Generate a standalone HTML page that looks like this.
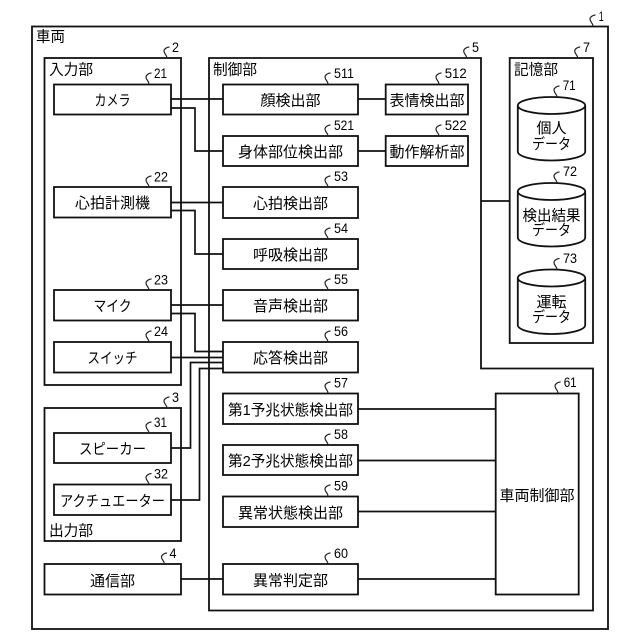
<!DOCTYPE html>
<html lang="ja">
<head>
<meta charset="utf-8">
<title>車両</title>
<style>
html,body{margin:0;padding:0;background:#fff}
svg{display:block}
text{font-family:"Liberation Sans","Noto Sans CJK JP",sans-serif;fill:#000;font-size:15px}
.c{text-anchor:middle}
.n{font-size:14px}
.b{fill:#fff;stroke:#111;stroke-width:1.8}
.o{fill:none;stroke:#111;stroke-width:1.8}
.l{fill:none;stroke:#111;stroke-width:1.7}
.s{fill:none;stroke:#222;stroke-width:1.2}
</style>
</head>
<body>
<svg width="640" height="640" viewBox="0 0 640 640" xmlns="http://www.w3.org/2000/svg">
<defs><path id="q" class="s" d="M0 0C0 -3 -3 -4 -3 -7C-3 -9 0 -11 2.500 -11"/></defs>
<rect width="640" height="640" fill="#fff"/>

<!-- containers -->
<rect class="o" x="32" y="26.500" width="576" height="602.500"/>
<rect class="o" x="44.500" y="58" width="136.500" height="327"/>
<rect class="o" x="44.500" y="408" width="136.500" height="133"/>
<path class="o" d="M209 58H481V368.500H593V610.500H209Z"/>
<rect class="o" x="509.700" y="58" width="83.300" height="285"/>

<!-- connectors -->
<path class="l" d="M171 99H223M171 108H195V151H223M171 202.500H223M171 210.500H195V254H223M171 305H223M171 313.500H195V351.500H223M171 357.500H223M171 448H190.500V362.500H223M171 500H199.500V368.500H223M181 579H223"/>
<path class="l" d="M358 99H386M358 151H386M481 201H510M358 409H496M358 460.500H496M358 511.500H496M358 579H496"/>

<!-- boxes -->
<rect class="b" x="54" y="84.500" width="117" height="30"/>
<rect class="b" x="54" y="187" width="117" height="30.500"/>
<rect class="b" x="54" y="290" width="117" height="30.500"/>
<rect class="b" x="54" y="342" width="117" height="30.500"/>
<rect class="b" x="54" y="433" width="117" height="30"/>
<rect class="b" x="54" y="484.500" width="117" height="30.500"/>
<rect class="b" x="44.500" y="564" width="136.500" height="30.500"/>
<rect class="b" x="223" y="84.500" width="135" height="30"/>
<rect class="b" x="223" y="136" width="135" height="30"/>
<rect class="b" x="223" y="187" width="135" height="31"/>
<rect class="b" x="223" y="239" width="135" height="30"/>
<rect class="b" x="223" y="290" width="135" height="30.500"/>
<rect class="b" x="223" y="342" width="135" height="30.500"/>
<rect class="b" x="223" y="393.500" width="135" height="30.500"/>
<rect class="b" x="223" y="445" width="135" height="30"/>
<rect class="b" x="223" y="496.500" width="135" height="30.500"/>
<rect class="b" x="223" y="564" width="135" height="30.500"/>
<rect class="b" x="385.700" y="84.500" width="82.300" height="30"/>
<rect class="b" x="385.700" y="136" width="82.300" height="30"/>
<rect class="b" x="495.700" y="393.500" width="83" height="201"/>

<!-- cylinders -->
<path class="b" d="M517.800 106V151.500C517.800 156.500 533 160.500 551.500 160.500C570 160.500 585.200 156.500 585.200 151.500V106"/>
<ellipse class="b" cx="551.500" cy="105.500" rx="33.700" ry="8.500"/>
<path class="b" d="M517.800 191.500V237.500C517.800 242.500 533 246.500 551.500 246.500C570 246.500 585.200 242.500 585.200 237.500V191.500"/>
<ellipse class="b" cx="551.500" cy="191.500" rx="33.700" ry="8.500"/>
<path class="b" d="M517.800 278V325C517.800 330 533 334 551.500 334C570 334 585.200 330 585.200 325V278"/>
<ellipse class="b" cx="551.500" cy="278" rx="33.700" ry="8.500"/>

<!-- group labels -->
<text x="36" y="41.500" textLength="29" lengthAdjust="spacingAndGlyphs">車両</text>
<text x="49" y="74.500" textLength="44" lengthAdjust="spacingAndGlyphs">入力部</text>
<text x="213" y="74.500" textLength="44" lengthAdjust="spacingAndGlyphs">制御部</text>
<text x="514" y="74.500" textLength="44" lengthAdjust="spacingAndGlyphs">記憶部</text>
<text x="49" y="535.500" textLength="44" lengthAdjust="spacingAndGlyphs">出力部</text>

<!-- box labels -->
<text class="c" x="112.500" y="105.500" textLength="36" lengthAdjust="spacingAndGlyphs">カメラ</text>
<text class="c" x="112.500" y="208">心拍計測機</text>
<text class="c" x="112.500" y="311" textLength="38" lengthAdjust="spacingAndGlyphs">マイク</text>
<text class="c" x="112.500" y="363" textLength="50" lengthAdjust="spacingAndGlyphs">スイッチ</text>
<text class="c" x="112.500" y="454" textLength="67" lengthAdjust="spacingAndGlyphs">スピーカー</text>
<text class="c" x="112.500" y="506" textLength="105" lengthAdjust="spacingAndGlyphs">アクチュエーター</text>
<text class="c" x="112.500" y="586">通信部</text>
<text class="c" x="290.500" y="105.500">顔検出部</text>
<text class="c" x="290.500" y="157">身体部位検出部</text>
<text class="c" x="290.500" y="208.500">心拍検出部</text>
<text class="c" x="290.500" y="260">呼吸検出部</text>
<text class="c" x="290.500" y="311">音声検出部</text>
<text class="c" x="290.500" y="363">応答検出部</text>
<text class="c" x="290.500" y="415" textLength="125" lengthAdjust="spacingAndGlyphs">第1予兆状態検出部</text>
<text class="c" x="290.500" y="466" textLength="125" lengthAdjust="spacingAndGlyphs">第2予兆状態検出部</text>
<text class="c" x="290.500" y="518">異常状態検出部</text>
<text class="c" x="290.500" y="585.500">異常判定部</text>
<text class="c" x="427" y="105.500">表情検出部</text>
<text class="c" x="427" y="157">動作解析部</text>
<text class="c" x="537" y="500.500">車両制御部</text>
<text class="c" x="551.500" y="133">個人</text>
<text class="c" x="551.500" y="149" textLength="39" lengthAdjust="spacingAndGlyphs">データ</text>
<text class="c" x="551.500" y="220.500" textLength="58" lengthAdjust="spacingAndGlyphs">検出結果</text>
<text class="c" x="551.500" y="235" textLength="39" lengthAdjust="spacingAndGlyphs">データ</text>
<text class="c" x="551.500" y="307">運転</text>
<text class="c" x="551.500" y="322" textLength="39" lengthAdjust="spacingAndGlyphs">データ</text>

<!-- squiggles -->
<use href="#q" x="593" y="26"/>
<use href="#q" x="167" y="58"/>
<use href="#q" x="149" y="84"/>
<use href="#q" x="149" y="187"/>
<use href="#q" x="149" y="290"/>
<use href="#q" x="149" y="342"/>
<use href="#q" x="167" y="408"/>
<use href="#q" x="149" y="433"/>
<use href="#q" x="149" y="484.500"/>
<use href="#q" x="164.500" y="564"/>
<use href="#q" x="328" y="84"/>
<use href="#q" x="328" y="136"/>
<use href="#q" x="328" y="187"/>
<use href="#q" x="328" y="239"/>
<use href="#q" x="328" y="290"/>
<use href="#q" x="328" y="342"/>
<use href="#q" x="328" y="393"/>
<use href="#q" x="328" y="445"/>
<use href="#q" x="328" y="496"/>
<use href="#q" x="328" y="564"/>
<use href="#q" x="439" y="84"/>
<use href="#q" x="439" y="136"/>
<use href="#q" x="466.700" y="58"/>
<use href="#q" x="577.700" y="58"/>
<use href="#q" x="557" y="97"/>
<use href="#q" x="557" y="183"/>
<use href="#q" x="557" y="269.500"/>
<use href="#q" x="558" y="393"/>

<!-- reference numbers -->
<text class="n" x="598.700" y="21" textLength="5" lengthAdjust="spacingAndGlyphs">1</text>
<text class="n" x="172" y="52" textLength="7" lengthAdjust="spacingAndGlyphs">2</text>
<text class="n" x="154" y="78" textLength="13" lengthAdjust="spacingAndGlyphs">21</text>
<text class="n" x="154" y="181.500" textLength="14" lengthAdjust="spacingAndGlyphs">22</text>
<text class="n" x="154" y="284.700" textLength="14" lengthAdjust="spacingAndGlyphs">23</text>
<text class="n" x="154" y="336" textLength="14" lengthAdjust="spacingAndGlyphs">24</text>
<text class="n" x="172" y="402" textLength="7" lengthAdjust="spacingAndGlyphs">3</text>
<text class="n" x="154" y="427" textLength="13" lengthAdjust="spacingAndGlyphs">31</text>
<text class="n" x="154" y="478.700" textLength="14" lengthAdjust="spacingAndGlyphs">32</text>
<text class="n" x="169.500" y="558" textLength="7" lengthAdjust="spacingAndGlyphs">4</text>
<text class="n" x="334" y="78" textLength="20" lengthAdjust="spacingAndGlyphs">511</text>
<text class="n" x="334" y="130" textLength="20" lengthAdjust="spacingAndGlyphs">521</text>
<text class="n" x="334" y="181" textLength="14" lengthAdjust="spacingAndGlyphs">53</text>
<text class="n" x="334" y="233" textLength="14" lengthAdjust="spacingAndGlyphs">54</text>
<text class="n" x="334" y="284" textLength="14" lengthAdjust="spacingAndGlyphs">55</text>
<text class="n" x="334" y="336" textLength="14" lengthAdjust="spacingAndGlyphs">56</text>
<text class="n" x="334" y="387.500" textLength="14" lengthAdjust="spacingAndGlyphs">57</text>
<text class="n" x="334" y="439" textLength="14" lengthAdjust="spacingAndGlyphs">58</text>
<text class="n" x="334" y="490.500" textLength="14" lengthAdjust="spacingAndGlyphs">59</text>
<text class="n" x="334" y="558" textLength="14" lengthAdjust="spacingAndGlyphs">60</text>
<text class="n" x="444.700" y="78" textLength="22" lengthAdjust="spacingAndGlyphs">512</text>
<text class="n" x="444.700" y="130" textLength="22" lengthAdjust="spacingAndGlyphs">522</text>
<text class="n" x="472" y="52" textLength="7" lengthAdjust="spacingAndGlyphs">5</text>
<text class="n" x="583" y="52" textLength="7" lengthAdjust="spacingAndGlyphs">7</text>
<text class="n" x="562.700" y="90" textLength="13" lengthAdjust="spacingAndGlyphs">71</text>
<text class="n" x="563" y="176" textLength="14" lengthAdjust="spacingAndGlyphs">72</text>
<text class="n" x="563" y="263" textLength="14" lengthAdjust="spacingAndGlyphs">73</text>
<text class="n" x="563.700" y="387" textLength="13" lengthAdjust="spacingAndGlyphs">61</text>
</svg>
</body>
</html>
